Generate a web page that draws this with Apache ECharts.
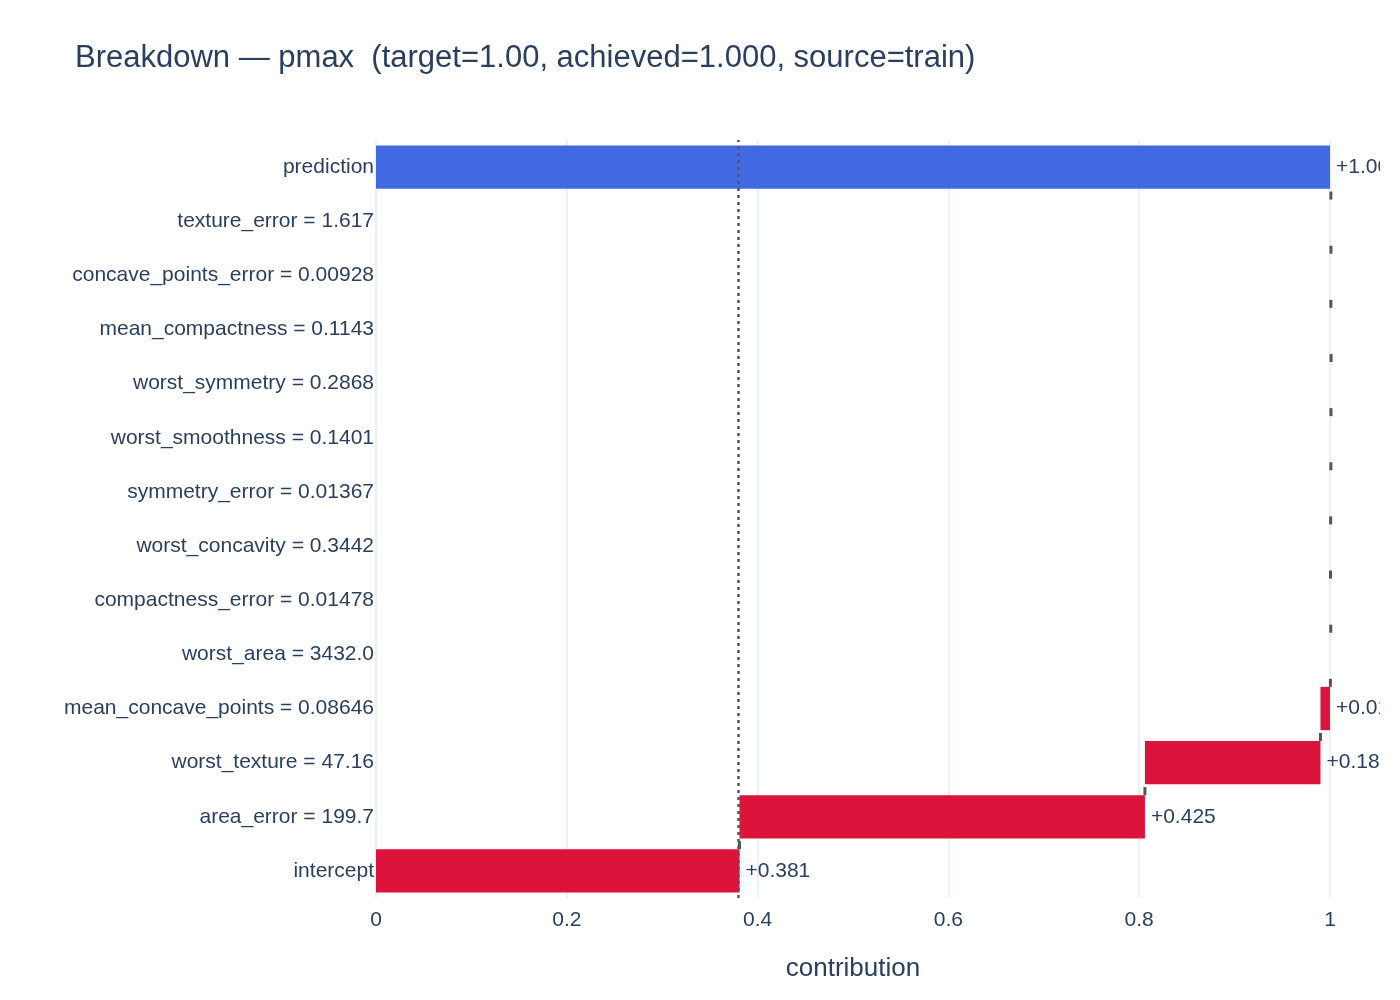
<!DOCTYPE html>
<html>
<head>
<meta charset="utf-8">
<script src="https://cdn.jsdelivr.net/npm/echarts@6/dist/echarts.min.js"></script>
<style>
  body { margin: 0; background: #fff; }
  #chart { width: 1380px; height: 1000px; overflow: hidden; }
</style>
</head>
<body>
<div id="chart"></div>
<script>
// 数据 (从下到上: intercept -> prediction)
var features = [
  "intercept",
  "area_error = 199.7",
  "worst_texture = 47.16",
  "mean_concave_points = 0.08646",
  "worst_area = 3432.0",
  "compactness_error = 0.01478",
  "worst_concavity = 0.3442",
  "symmetry_error = 0.01367",
  "worst_smoothness = 0.1401",
  "worst_symmetry = 0.2868",
  "mean_compactness = 0.1143",
  "concave_points_error = 0.00928",
  "texture_error = 1.617",
  "prediction"
];
var contributions = [0.381, 0.425, 0.184, 0.0104, 0.0004, -0.0003, 0.0002, 0.0002, 0.0001, 0.0001, -0.0002, 0.0001, -0.0001];
var xTicks = [0, 0.2, 0.4, 0.6, 0.8, 1];

(function() {
  var myChart = echarts.init(document.getElementById("chart"));

  // 累计值
  var base = [], size = [], labels = [], colors = [], ends = [];
  var cum = 0;
  contributions.forEach(function(c) {
    var start = cum;
    cum += c;
    base.push(Math.min(start, cum));
    size.push(Math.abs(c));
    labels.push((c >= 0 ? "+" : "-") + Math.abs(c).toFixed(3));
    colors.push(c >= 0 ? "#dc143c" : "#4169e1");
    ends.push(cum);
  });
  base.push(0);
  size.push(cum);
  labels.push("+" + cum.toFixed(3));
  colors.push("#4169e1");

  // 连接线数据: [行号, x值]
  var connectors = ends.map(function(v, i) { return [i, v]; });

  var option = {
    animation: false,
    title: {
      text: "Breakdown — pmax  (target=1.00, achieved=1.000, source=train)",
      left: 70,
      top: 38,
      textStyle: { color: "#2a3f5f", fontSize: 31, fontWeight: "normal", fontFamily: "Liberation Sans" }
    },
    grid: { left: 376, right: 50, top: 140, bottom: 102 },
    xAxis: {
      type: "value",
      min: 0,
      max: 1,
      interval: 0.2,
      name: "contribution",
      nameLocation: "middle",
      nameGap: 58,
      nameTextStyle: { color: "#2a3f5f", fontSize: 26, fontFamily: "Liberation Sans" },
      axisLabel: {
        color: "#2a3f5f", fontSize: 21, fontFamily: "Liberation Sans", margin: 12,
        formatter: function(v) { return String(+v.toFixed(1)); }
      },
      axisLine: { show: false },
      axisTick: { show: false },
      splitLine: { lineStyle: { color: "#ebf0f8", width: 2 } }
    },
    yAxis: {
      type: "category",
      data: features,
      inverse: false,
      axisLabel: { color: "#2a3f5f", fontSize: 21, fontFamily: "Liberation Sans", margin: 2 },
      axisLine: { show: false },
      axisTick: { show: false },
      splitLine: { show: false }
    },
    series: [
      {
        type: "bar",
        stack: "w",
        data: base,
        itemStyle: { color: "transparent" },
        silent: true,
        barWidth: "80%",
        markLine: {
          silent: true,
          symbol: "none",
          label: { show: false },
          lineStyle: { color: "#555", type: [3, 4], width: 2.5 },
          data: [{ xAxis: contributions[0] }]
        }
      },
      {
        type: "bar",
        stack: "w",
        barWidth: "80%",
        data: size.map(function(v, i) {
          return { value: v, itemStyle: { color: colors[i] } };
        }),
        label: {
          show: true,
          position: "right",
          distance: 6,
          color: "#2a3f5f",
          fontSize: 21,
          fontFamily: "Liberation Sans",
          formatter: function(p) { return labels[p.dataIndex]; }
        }
      },
      {
        type: "custom",
        silent: true,
        data: connectors,
        renderItem: function(params, api) {
          var row = api.value(0);
          var p1 = api.coord([api.value(1), row]);
          var p2 = api.coord([api.value(1), row + 1]);
          var half = api.size([0, 1])[1] * 0.4;
          return {
            type: "line",
            shape: { x1: p1[0], y1: p1[1] - half, x2: p2[0], y2: p2[1] + half },
            style: { stroke: "#555", lineWidth: 3, lineDash: [8, 4] }
          };
        }
      }
    ]
  };

  myChart.setOption(option);
  window.addEventListener("resize", function() {
    myChart.resize();
  });
})();
</script>
</body>
</html>
